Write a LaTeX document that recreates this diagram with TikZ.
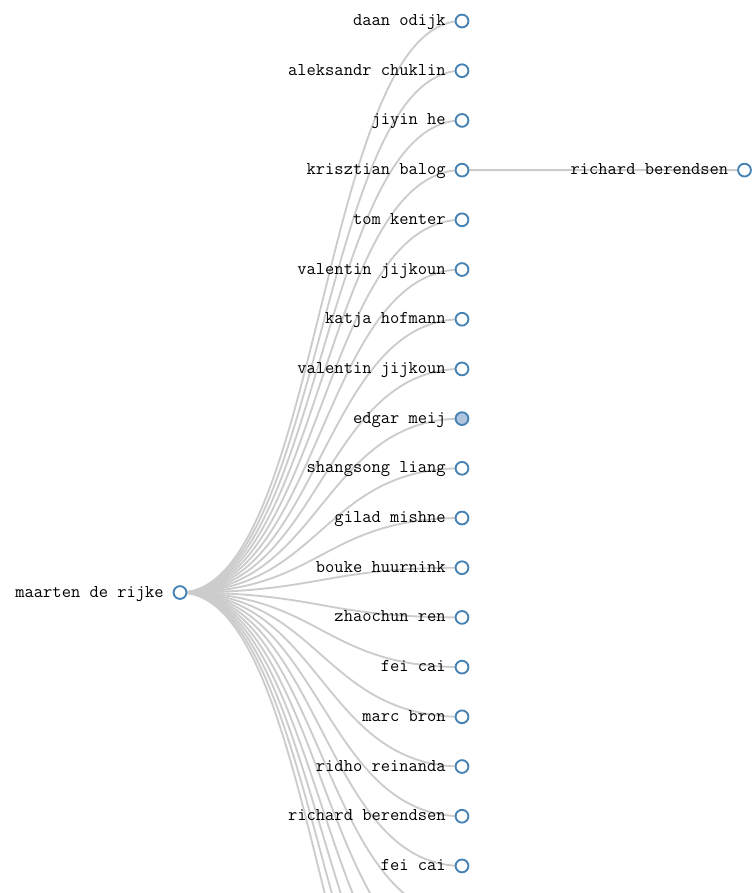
\documentclass[tikz,border=0pt]{standalone}
\usetikzlibrary{backgrounds}
\definecolor{linkgray}{HTML}{CCCCCC}
\definecolor{nodeblue}{HTML}{4682B4}
\definecolor{foldfill}{HTML}{B0C4DE}
\tikzset{
  dot/.style={circle, draw=nodeblue, line width=1.4pt, fill=white,
              minimum size=9.6pt, inner sep=0pt},
  folded/.style={dot, fill=foldfill},
  lbl/.style={anchor=base east, inner sep=0pt,
              font=\ttfamily\fontsize{13.5}{16}\selectfont},
  link/.style={draw=linkgray, line width=1.4pt},
}
\begin{document}
\begin{tikzpicture}[x=0.75pt, y=-0.75pt]
\useasboundingbox (0,0) rectangle (755,893);

% root of the co-author tree
\node[dot] (root) at (180,592.5) {};
\node[lbl] (root-l) at (164,597) {maarten de rijke};
\coordinate (mid) at (321,592.5);

% first level
\foreach \i/\name/\sty in {
  0/daan odijk/dot,
  1/aleksandr chuklin/dot,
  2/jiyin he/dot,
  3/krisztian balog/dot,
  4/tom kenter/dot,
  5/valentin jijkoun/dot,
  6/katja hofmann/dot,
  7/valentin jijkoun/dot,
  8/edgar meij/folded,
  9/shangsong liang/dot,
  10/gilad mishne/dot,
  11/bouke huurnink/dot,
  12/zhaochun ren/dot,
  13/fei cai/dot,
  14/marc bron/dot,
  15/ridho reinanda/dot,
  16/richard berendsen/dot,
  17/fei cai/dot} {
  \node[\sty] (c\i) at (462,21+49.7*\i) {};
  \node[lbl] (l\i) at (446,25.5+49.7*\i) {\name};
}
% further children below the visible area
\foreach \i in {18,...,23}
  \coordinate (c\i) at (462,21+49.7*\i);

% second level
\node[dot] (g0) at (744.5,170.1) {};
\node[lbl] (g0-l) at (728.5,174.6) {richard berendsen};

% links
\begin{scope}[on background layer]
  \clip (0,0) rectangle (755,893);
  \foreach \i in {0,...,23}
    \draw[link] (root.center) .. controls (mid |- root.center)
      and (mid |- c\i.center) .. (c\i.center);
  \draw[link] (c3.center) -- (g0.center);
\end{scope}
\end{tikzpicture}
\end{document}
